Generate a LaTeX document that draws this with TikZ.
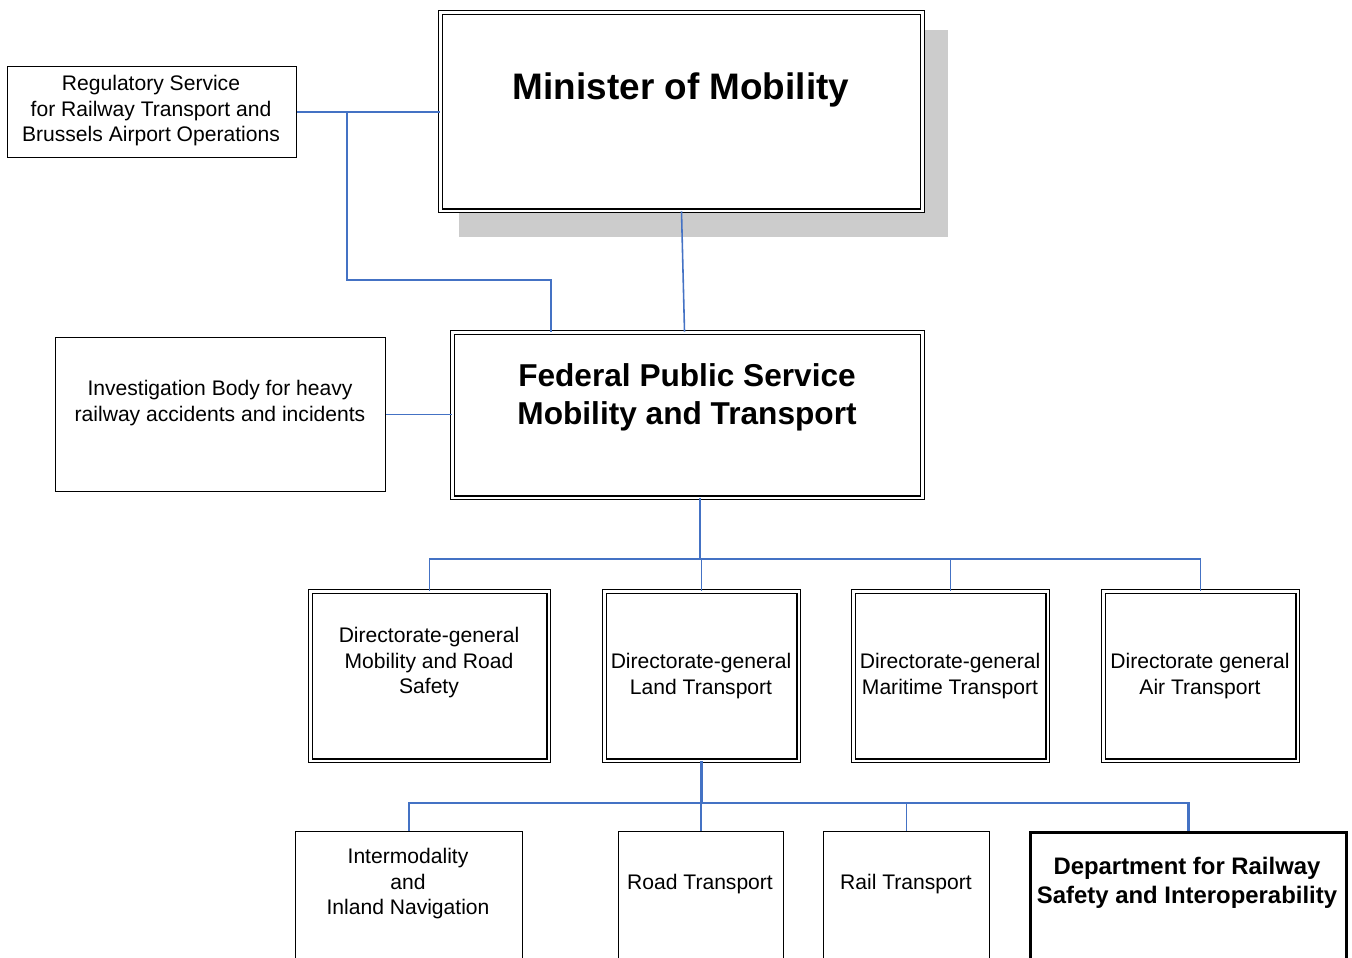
\documentclass[tikz,border=0pt]{standalone}
\usepackage{xcolor}
\usepackage{fontspec}
\setmainfont{Liberation Sans}
\usepackage{tikz}
\usetikzlibrary{positioning, calc}
\definecolor{linkblue}{RGB}{68,114,196}

\begin{document}
\begin{tikzpicture}[x=0.02cm, y=-0.02cm,
    box/.style={draw, line width=0.7pt, inner sep=0pt, anchor=north west},
    dbox/.style={box, line width=0.8pt, double, double distance=1.4pt},
    link/.style={draw=linkblue, line width=0.9pt},
    txt/.style={align=center, inner sep=0pt, font=\fontsize{12}{14.5}\selectfont},
    bigtxt/.style={align=center, inner sep=0pt, font=\fontsize{18}{21.5}\selectfont\bfseries}]
    \useasboundingbox (0,0) rectangle (1352,957);
    \clip (0,0) rectangle (1352,957);

    % top level
    \fill[black!20] (459,30) rectangle (948,237);
    \node[dbox, fill=white, minimum width=9.65cm, minimum height=3.97cm] (min) at (439.6,11.6) {};
    \node[bigtxt, font=\fontsize{21}{25}\selectfont\bfseries] (min-t) at (681,90) {Minister of Mobility};
    \node[box, minimum width=5.78cm, minimum height=1.82cm] (reg) at (7,66) {};
    \node[txt] (reg-t) at (151,111) {Regulatory Service\\for Railway Transport and\\Brussels Airport Operations};

    % federal public service
    \node[dbox, minimum width=9.41cm, minimum height=3.31cm] (fps) at (451.6,331.6) {};
    \node[bigtxt] (fps-t) at (687,397) {Federal Public Service\\Mobility and Transport};
    \node[box, minimum width=6.6cm, minimum height=3.08cm] (inv) at (55,337) {};
    \node[txt] (inv-t) at (220,403) {Investigation Body for heavy\\railway accidents and incidents};

    % directorates
    \node[dbox, minimum width=4.77cm, minimum height=3.39cm] (dg1) at (309.6,590.6) {};
    \node[dbox, minimum width=3.89cm, minimum height=3.39cm] (dg2) at (603.6,590.6) {};
    \node[dbox, minimum width=3.89cm, minimum height=3.39cm] (dg3) at (852.6,590.6) {};
    \node[dbox, minimum width=3.89cm, minimum height=3.39cm] (dg4) at (1102.6,590.6) {};
    \node[txt] (dg1-t) at (429,663) {Directorate-general\\Mobility and Road\\Safety};
    \node[txt] (dg2-t) at (701,676) {Directorate-general\\Land Transport};
    \node[txt] (dg3-t) at (950,676) {Directorate-general\\Maritime Transport};
    \node[txt] (dg4-t) at (1200,676) {Directorate general\\Air Transport};

    % services of land transport
    \node[box, minimum width=4.54cm, minimum height=3.4cm] (im) at (295,831) {};
    \node[box, minimum width=3.3cm, minimum height=3.4cm] (road) at (618,831) {};
    \node[box, minimum width=3.32cm, minimum height=3.4cm] (rail) at (823,831) {};
    \node[box, line width=1.7pt, minimum width=6.32cm, minimum height=3.4cm] (dept) at (1029,831) {};
    \node[txt] (im-t) at (408,884) {Intermodality\\and\\Inland Navigation};
    \node[txt] (road-t) at (700,884) {Road Transport};
    \node[txt] (rail-t) at (906,884) {Rail Transport};
    \node[align=center, inner sep=0pt, font=\fontsize{13.6}{16.4}\selectfont\bfseries] (dept-t) at (1187,883) {Department for Railway\\Safety and Interoperability};

    % connectors
    \coordinate (j1) at (347,111);
    \coordinate (j2) at (551,280);
    \coordinate (bus1) at (700,559);
    \coordinate (bus2) at (700,803);
    \draw[link] (reg.east) -- (reg.east -| min.west);
    \draw[link] (j1) |- (j2) -- (j2 |- fps.north);
    \draw[link] (min.south) -- ($(fps.north)+(-3,0)$);
    \draw[link] (inv.east) -- (inv.east -| fps.west);
    \draw[link] (bus1 |- fps.south) -- (bus1);
    \draw[link] (dg1.north) |- (bus1) -| (dg4.north);
    \draw[link] (dg2.north) -- (dg2.north |- bus1);
    \draw[link] (dg3.north) -- (dg3.north |- bus1);
    \draw[link] (im.north) |- (rail.north |- bus2) -- (rail.north);
    \draw[link] (road.north) -- (road.north |- bus2);
    \draw[link, line width=1.5pt] (dg2.south) |- (dept.north |- bus2) -- (dept.north);
\end{tikzpicture}
\end{document}
